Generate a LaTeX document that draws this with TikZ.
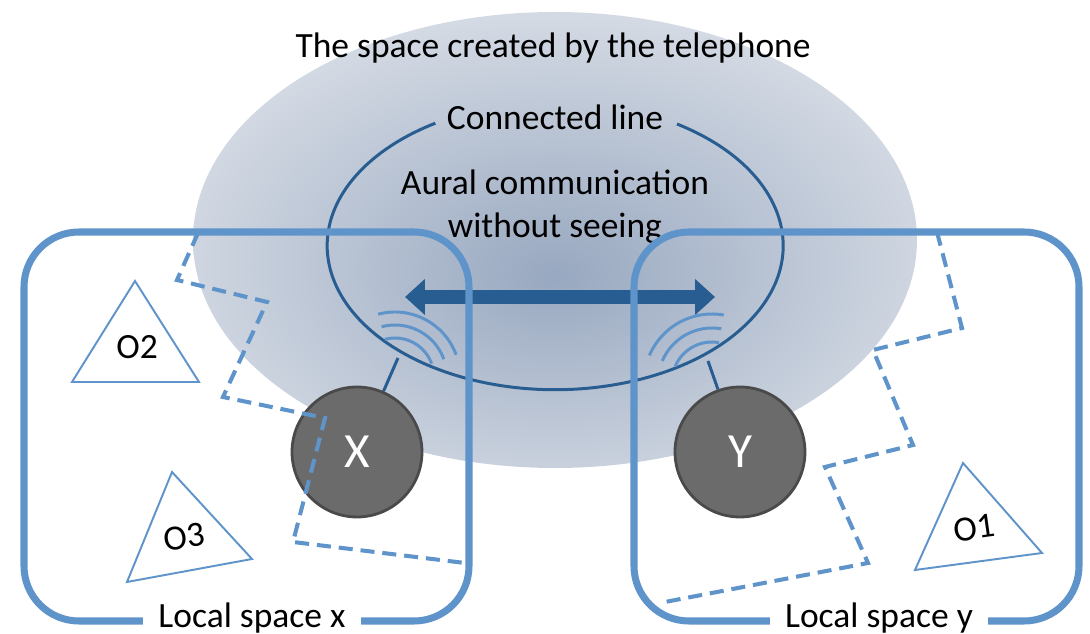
\documentclass[tikz,border=0pt]{standalone}
\usepackage{fontspec}
\setmainfont{Carlito}
\usetikzlibrary{arrows.meta}
\definecolor{linkblue}{RGB}{40,93,145}
\definecolor{boxblue}{RGB}{95,148,202}
\definecolor{spacecore}{RGB}{152,168,192}
\definecolor{spaceedge}{RGB}{231,234,239}
\definecolor{persongray}{RGB}{107,107,107}
\definecolor{personrim}{RGB}{74,74,74}
\pgfdeclareradialshading{telspace}{\pgfpoint{0bp}{-4bp}}{color(0bp)=(spacecore); color(36bp)=(spaceedge); color(75bp)=(spaceedge)}
\tikzset{
  txt/.style={font=\fontsize{20.2}{24.3}\selectfont, align=center},
  localbox/.style={draw=boxblue, line width=4pt, rounded corners=1.1cm},
  fence/.style={draw=boxblue, line width=2.3pt, dash pattern=on 8pt off 4.5pt},
  person/.style={circle, fill=persongray, draw=personrim, line width=1.6pt, minimum size=2.6cm, text=white, font=\fontsize{28}{32}\selectfont},
  thing/.style={fill=white, draw=boxblue, line width=1.1pt},
  wave/.style={draw=boxblue, line width=1.7pt},
  link/.style={draw=linkblue, line width=1.7pt},
  talk/.style={draw=linkblue, line width=8.5pt, {Triangle[length=0.4cm,width=0.7cm]}-{Triangle[length=0.4cm,width=0.7cm]}}
}
\begin{document}
\begin{tikzpicture}[x=0.02cm, y=-0.02cm]
  \useasboundingbox (0,0) rectangle (1090,634);
  % space created by the telephone
  \shade[shading=telspace] (555,240) ellipse [x radius=362, y radius=228];
  \node[txt] (title) at (553,48) {The space created by the telephone};
  % connected line
  \draw[link] (677,124) arc [start angle=-57.7, end angle=238.3, x radius=228, y radius=144];
  \node[txt] (conn) at (555,117) {Connected line};
  \node[txt] (aural) at (555,207) {Aural communication\\without seeing};

  \coordinate (tl) at (405,297);
  \coordinate (tr) at (715,297);
  \draw[talk] (tl) -- (tr);

  % phone waves
  \foreach \r in {39,52,65}
    \draw[wave] ([shift={(-20:\r)}]395,377) arc [start angle=-20, end angle=-105, radius=\r];
  \foreach \r in {40,54,68}
    \draw[wave] ([shift={(-80:\r)}]712,382) arc [start angle=-80, end angle=-157, radius=\r];

  % persons
  \node[person] (px) at (357,452) {X};
  \node[person] (py) at (740,452) {Y};
  \coordinate (xphone) at (398,358);
  \coordinate (yphone) at (708,361);
  \draw[link] (px) -- (xphone);
  \draw[link] (py) -- (yphone);

  % objects
  \filldraw[thing] (135,281) -- (72,382) -- (199,382) -- cycle;
  \node[txt] (o2) at (137,347) {O2};
  \filldraw[thing] (172,472) -- (127,582) -- (252,559) -- cycle;
  \node[txt, rotate=8] (o3) at (184,537) {O3};
  \filldraw[thing] (963,463) -- (915,570) -- (1042,553) -- cycle;
  \node[txt, rotate=8] (o1) at (974,528) {O1};

  % local spaces
  \draw[localbox] (24,232) rectangle (469,621);
  \draw[localbox] (634,232) rectangle (1079,621);
  \node[txt, fill=white, inner xsep=0.3cm, inner ysep=0pt] (lx) at (252,618) {Local space x};
  \node[txt, fill=white, inner xsep=0.3cm, inner ysep=0pt] (ly) at (879,618) {Local space y};
  \draw[fence] (198,233) -- (177,280) -- (267,302) -- (223,397) -- (325,418) -- (293,542) -- (465,563);
  \draw[fence] (937,232) -- (962,328) -- (873,350) -- (913,445) -- (825,467) -- (868,563) -- (665,602);
\end{tikzpicture}
\end{document}
